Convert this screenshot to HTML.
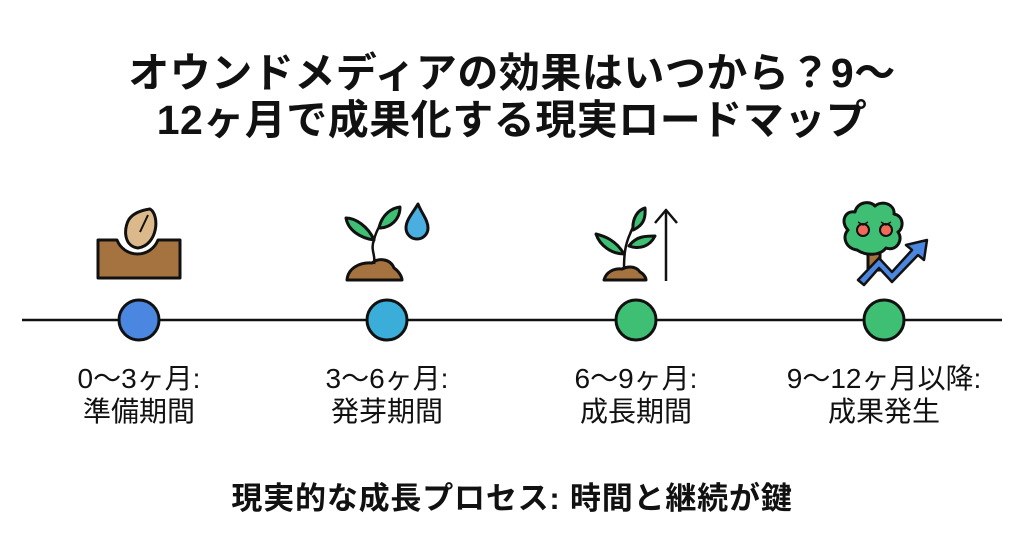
<!DOCTYPE html>
<html><head><meta charset="utf-8"><style>
body{margin:0;width:1024px;height:559px;background:#fff;overflow:hidden;position:relative;font-family:"Liberation Sans","Noto Sans CJK JP",sans-serif;color:#111}
.t{position:absolute;left:0;width:1024px;text-align:center;font-weight:bold;font-size:41px;line-height:47px;top:50px;letter-spacing:0.5px}
.l{position:absolute;width:260px;text-align:center;font-size:28px;line-height:33px;top:362px}
.b{position:absolute;left:0;width:1024px;text-align:center;font-weight:bold;font-size:31px;top:473px;letter-spacing:0.8px}
</style></head><body>
<div class="t">オウンドメディアの効果はいつから？9〜<br>12ヶ月で成果化する現実ロードマップ</div>
<svg width="1024" height="559" style="position:absolute;left:0;top:0" stroke="#111" stroke-width="3" stroke-linejoin="round">
<line x1="22" y1="320" x2="1002" y2="320" stroke-width="2.5"/>
<circle cx="139" cy="320" r="20" fill="#4b87e0"/>
<circle cx="387" cy="320" r="20" fill="#3aaed8"/>
<circle cx="636" cy="320" r="20" fill="#3fbf74"/>
<circle cx="884" cy="320" r="20" fill="#3fbf74"/>
<path d="M98 240 H117 A22 22 0 0 0 158 240 H180 V278 H98 Z" fill="#a5733f"/>
<path d="M150 209 C160 215 158 245 138 248 C122 246 124 225 130 218 C135 212 143 210 150 209 Z" fill="#dcb98a"/>
<path d="M148 215 L140 232" stroke-width="2"/>
<path d="M347 280 C348 268 360 262 372 263 C378 258 390 258 394 268 C400 272 402 278 402 280 Z" fill="#a5733f"/>
<path d="M374 264 C376 255 370 250 374 240 C376 230 382 222 385 216" fill="none" stroke-width="2.5"/>
<path d="M374 240 C368 226 355 218 346 218 C348 230 360 238 374 240 Z" fill="#3fbf74"/>
<path d="M379 228 C382 214 392 208 400 207 C400 220 390 228 379 228 Z" fill="#3fbf74"/>
<path d="M418 204 C412 214 406 220 406 228 A8 8 0 0 0 428 228 C428 220 422 214 418 204 Z" fill="#4aaee0"/>
<path d="M604 280 C606 272 614 268 622 269 C628 266 636 266 640 272 C644 274 646 278 646 280 Z" fill="#a5733f"/>
<path d="M624 269 C624 255 625 245 630 234 C633 226 637 220 640 216" fill="none" stroke-width="2.5"/>
<path d="M624 254 C616 240 604 236 596 234 C600 246 612 254 624 254 Z" fill="#3fbf74"/>
<path d="M629 246 C636 236 646 236 655 236 C650 246 640 250 629 246 Z" fill="#3fbf74"/>
<path d="M633 230 C632 218 638 210 645 208 C646 220 642 226 633 230 Z" fill="#3fbf74"/>
<line x1="666" y1="281" x2="666" y2="210" stroke-width="2.5"/>
<path d="M655 223 L666 210 L677 223" fill="none" stroke-width="2.5"/>
<rect x="868" y="245" width="12" height="25" fill="#a5733f"/>
<path d="M857 250 C845 248 842 236 848 230 C840 222 845 210 855 212 C857 202 870 200 875 206 C882 200 895 204 894 214 C904 216 904 228 898 232 C904 240 896 252 886 248 C880 256 866 256 857 250 Z" fill="#3fbf74"/>
<circle cx="863" cy="230" r="6" fill="#f06a5a" stroke-width="2"/>
<circle cx="886" cy="230" r="6" fill="#f06a5a" stroke-width="2"/>
<path d="M858 222 L863 225 L868 222 M881 222 L886 225 L891 222" fill="none" stroke-width="1.5"/>
<path d="M858 280 L879 258 L892 272 L912 250 L906 245 L927 240 L924 260 L918 255 L892 282 L879 268 L864 285 Z" fill="#4b87e0" stroke-width="2.5"/>
</svg>
<div class="l" style="left:9px">0〜3ヶ月:<br>準備期間</div>
<div class="l" style="left:257px">3〜6ヶ月:<br>発芽期間</div>
<div class="l" style="left:506px">6〜9ヶ月:<br>成長期間</div>
<div class="l" style="left:734px;width:300px">9〜12ヶ月以降:<br>成果発生</div>
<div class="b">現実的な成長プロセス: 時間と継続が鍵</div>
</body></html>
